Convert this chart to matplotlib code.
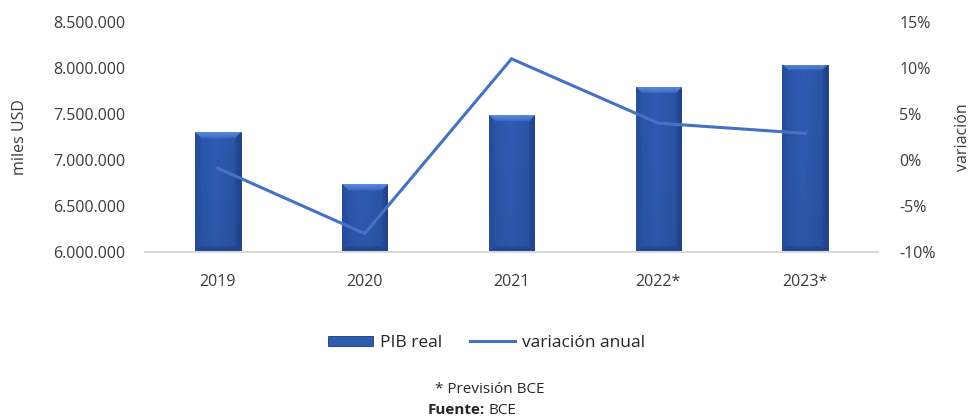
import numpy as np
import matplotlib.pyplot as plt
from matplotlib.patches import Patch
from matplotlib.lines import Line2D
from matplotlib.ticker import FuncFormatter

plt.rcParams['font.family'] = ['Open Sans', 'DejaVu Sans']

years = ['2019', '2020', '2021', '2022*', '2023*']
pib = [7304000, 6739000, 7489000, 7793000, 8033000]
variacion = [-0.9, -8.0, 11.0, 4.0, 2.9]

left_ticks = [6000000, 6500000, 7000000, 7500000, 8000000, 8500000]
right_ticks = [-10, -5, 0, 5, 10, 15]

txt_col = '#3b3b3b'
body = np.array([46, 92, 180]) / 255
top_face = np.array([92, 140, 222]) / 255
left_face = np.array([38, 76, 156]) / 255
right_face = np.array([32, 64, 138]) / 255
bot_face = np.array([30, 60, 128]) / 255


def bevel_image(wpx, hpx, bev=6, scale=3):
    nx = max(int(wpx * scale), 2)
    ny = max(int(hpx * scale), 2)
    xs = (np.arange(nx) + 0.5) / scale
    ys = (np.arange(ny) + 0.5) / scale
    X, Y = np.meshgrid(xs, ys)
    dl, dr, dt, db = X, wpx - X, Y, hpx - Y
    img = np.zeros((ny, nx, 3))
    # body with soft horizontal shading, a bit darker towards the bottom
    shade = 1 - 0.10 * np.abs((X / wpx) - 0.45) * 2 - 0.05 * (Y / hpx)
    img[:] = body
    img *= shade[..., None]
    d = np.stack([dl, dr, dt, db])
    which = np.argmin(d, axis=0)
    mind = np.min(d, axis=0)
    inb = mind < bev
    for k, col in enumerate([left_face, right_face, top_face, bot_face]):
        m = inb & (which == k)
        w = 0.35 + 0.65 * (1 - mind[m] / bev)
        img[m] = img[m] * (1 - w[:, None]) + col * w[:, None]
    return np.clip(img, 0, 1)


fig = plt.figure(figsize=(9.73, 4.19), dpi=100)
ax = fig.add_axes([0.1486, 0.3986, 0.7542, 0.5489])
ax2 = ax.twinx()

x = np.arange(len(years))
ax.set_xlim(-0.5, len(years) - 0.5)
ax.set_ylim(6000000, 8500000)
ax2.set_ylim(-10, 15)

bars = ax.bar(x, [v - 6000000 for v in pib], bottom=6000000, width=0.31,
              color=body, edgecolor='#1c3670', linewidth=0.6, zorder=2)

for b in bars:
    x0, y0 = b.get_x(), b.get_y()
    x1, y1 = x0 + b.get_width(), y0 + b.get_height()
    p0 = ax.transData.transform((x0, y0))
    p1 = ax.transData.transform((x1, y1))
    img = bevel_image(p1[0] - p0[0], p1[1] - p0[1])
    im = ax.imshow(img, extent=(x0, x1, y0, y1), origin='upper',
                   aspect='auto', zorder=2.5, interpolation='bilinear')
    im.set_clip_path(b)

ax.set_xlim(-0.5, len(years) - 0.5)
ax.set_ylim(6000000, 8500000)

ax2.plot(x, variacion, color='#4472C4', lw=2.2, solid_joinstyle='miter', zorder=3)

for a in (ax, ax2):
    for s in a.spines.values():
        s.set_visible(False)
ax.spines['bottom'].set_visible(True)
ax.spines['bottom'].set_color('#d9d9d9')
ax.spines['bottom'].set_linewidth(1.5)

ax.set_xticks(x)
ax.set_xticklabels(years)
ax.set_yticks(left_ticks)
ax.yaxis.set_major_formatter(FuncFormatter(lambda v, p: '{:,.0f}'.format(v).replace(',', '.')))
ax2.set_yticks(right_ticks)
ax2.yaxis.set_major_formatter(FuncFormatter(lambda v, p: '{:.0f}%'.format(v)))

ax.tick_params(axis='both', length=0, labelsize=11.5, colors=txt_col)
ax.tick_params(axis='y', pad=14)
ax.tick_params(axis='x', pad=16)
ax2.tick_params(axis='y', length=0, labelsize=11.5, colors=txt_col, pad=15)

ax.set_ylabel('miles USD', fontsize=11.5, color=txt_col, labelpad=18)
ax2.set_ylabel('variación', fontsize=11.5, color=txt_col, labelpad=14)

handles = [Patch(facecolor=body, edgecolor='#1c3670', linewidth=0.6),
           Line2D([0], [0], color='#4472C4', lw=2.2)]
fig.legend(handles, ['PIB real', 'variación anual'], loc='center',
           bbox_to_anchor=(0.5, 1 - 343 / 419), ncol=2, frameon=False,
           fontsize=12.5, handlelength=2.6, handleheight=0.5,
           handletextpad=0.4, columnspacing=1.6, labelcolor='#262626')

fig.text(490 / 973, 1 - 389 / 419, '* Previsión BCE', ha='center', va='center',
         fontsize=11, color='#262626')
fig.text(485 / 973, 1 - 410 / 419, 'Fuente:', ha='right', va='center',
         fontsize=11, color='#262626', fontweight='bold')
fig.text(488 / 973, 1 - 410 / 419, 'BCE', ha='left', va='center',
         fontsize=11, color='#262626')

fig.savefig('out.png', dpi=100)
